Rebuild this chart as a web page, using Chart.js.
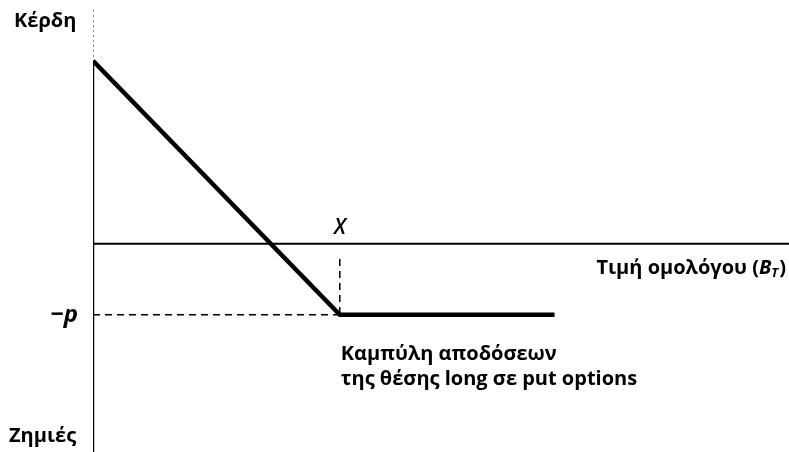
<!DOCTYPE html>
<html>
<head>
<meta charset="utf-8">
<script src="https://cdn.jsdelivr.net/npm/chart.js@4"></script>
<style>
  html, body { margin: 0; padding: 0; background: #fff; }
  #wrap { width: 789px; height: 452px; position: relative; }
</style>
</head>
<body>
<div id="wrap"><canvas id="payoffChart"></canvas></div>
<script>
// long put payoff (strike X = 100, premium p = 28)
const prices = [0, 100, 187];
const payoff = [72, -28, -28];
const strike = 100;
const premium = 28;
const axisMaxX = 282;
const axisMinY = -82;
const axisMaxY = 92;

const ctx = document.getElementById("payoffChart");
const pts = (xs, ys) => xs.map((x, i) => ({ x: x, y: ys[i] }));

const labelsPlugin = {
  id: "labels",
  afterDatasetsDraw(chart) {
    const c = chart.ctx;
    const xs = chart.scales.x;
    const ys = chart.scales.y;
    const font = "bold 20px 'Open Sans', sans-serif";
    c.save();
    c.fillStyle = "#000";
    c.textBaseline = "middle";

    c.font = font;
    c.textAlign = "left";
    c.fillText("Κέρδη", 14, 21);
    c.fillText("Ζημιές", 9, 436);

    // -p on the y axis
    c.font = "italic bold 24px 'Open Sans', sans-serif";
    c.textAlign = "right";
    c.fillText("\u2212p", xs.getPixelForValue(0) - 15, ys.getPixelForValue(-premium));

    // X above the axis
    c.font = "italic 600 21px 'Open Sans', sans-serif";
    c.textAlign = "center";
    c.fillText("X", xs.getPixelForValue(strike), ys.getPixelForValue(0) - 16);

    // x axis title with subscript
    c.textAlign = "left";
    const y0 = ys.getPixelForValue(0) + 25;
    const t1 = "Τιμή ομολόγου (";
    c.font = font;
    const w1 = c.measureText(t1).width;
    c.font = "italic bold 20px 'Open Sans', sans-serif";
    const wB = c.measureText("B").width;
    c.font = "italic bold 13px 'Open Sans', sans-serif";
    const wT = c.measureText("T").width;
    c.font = font;
    const wP = c.measureText(")").width;
    let x = 786 - (w1 + wB + wT + 1 + wP);
    c.fillText(t1, x, y0); x += w1;
    c.font = "italic bold 20px 'Open Sans', sans-serif";
    c.fillText("B", x, y0); x += wB;
    c.font = "italic bold 13px 'Open Sans', sans-serif";
    c.fillText("T", x, y0 + 5); x += wT + 1;
    c.font = font;
    c.fillText(")", x, y0);

    // caption under the curve
    const cx = xs.getPixelForValue(strike) + 1;
    const cy = ys.getPixelForValue(-premium);
    c.fillText("Καμπύλη αποδόσεων", cx, cy + 39);
    c.fillText("της θέσης long σε put options", cx, cy + 64);
    c.restore();
  }
};

new Chart(ctx, {
  type: "scatter",
  data: {
    datasets: [
      {
        label: "y axis dotted",
        data: pts([0, 0], [axisMaxY, payoff[0]]),
        showLine: true,
        borderColor: "#555",
        borderWidth: 1.5,
        borderDash: [2, 3],
        pointRadius: 0,
      },
      {
        label: "y axis",
        data: pts([0, 0], [payoff[0], axisMinY]),
        showLine: true,
        borderColor: "#000",
        borderWidth: 2.5,
        pointRadius: 0,
      },
      {
        label: "x axis",
        data: pts([0, axisMaxX], [0, 0]),
        showLine: true,
        borderColor: "#000",
        borderWidth: 2,
        pointRadius: 0,
      },
      {
        label: "-p guide",
        data: pts([0, strike], [-premium, -premium]),
        showLine: true,
        borderColor: "#000",
        borderWidth: 1.5,
        borderDash: [7, 5],
        pointRadius: 0,
      },
      {
        label: "X guide",
        data: pts([strike, strike], [-6, -premium]),
        showLine: true,
        borderColor: "#000",
        borderWidth: 1.5,
        borderDash: [7, 5],
        pointRadius: 0,
      },
      {
        label: "Payoff",
        data: pts(prices, payoff),
        showLine: true,
        borderColor: "#000",
        borderWidth: 4.5,
        pointRadius: 0,
      },
    ],
  },
  options: {
    responsive: true,
    maintainAspectRatio: false,
    animation: false,
    layout: { padding: { left: 93, right: 0, top: 10, bottom: 0 } },
    scales: {
      x: { type: "linear", min: 0, max: axisMaxX, display: false },
      y: { type: "linear", min: axisMinY, max: axisMaxY, display: false },
    },
    plugins: {
      legend: { display: false },
      tooltip: { enabled: false },
    },
  },
  plugins: [labelsPlugin],
});
</script>
</body>
</html>
